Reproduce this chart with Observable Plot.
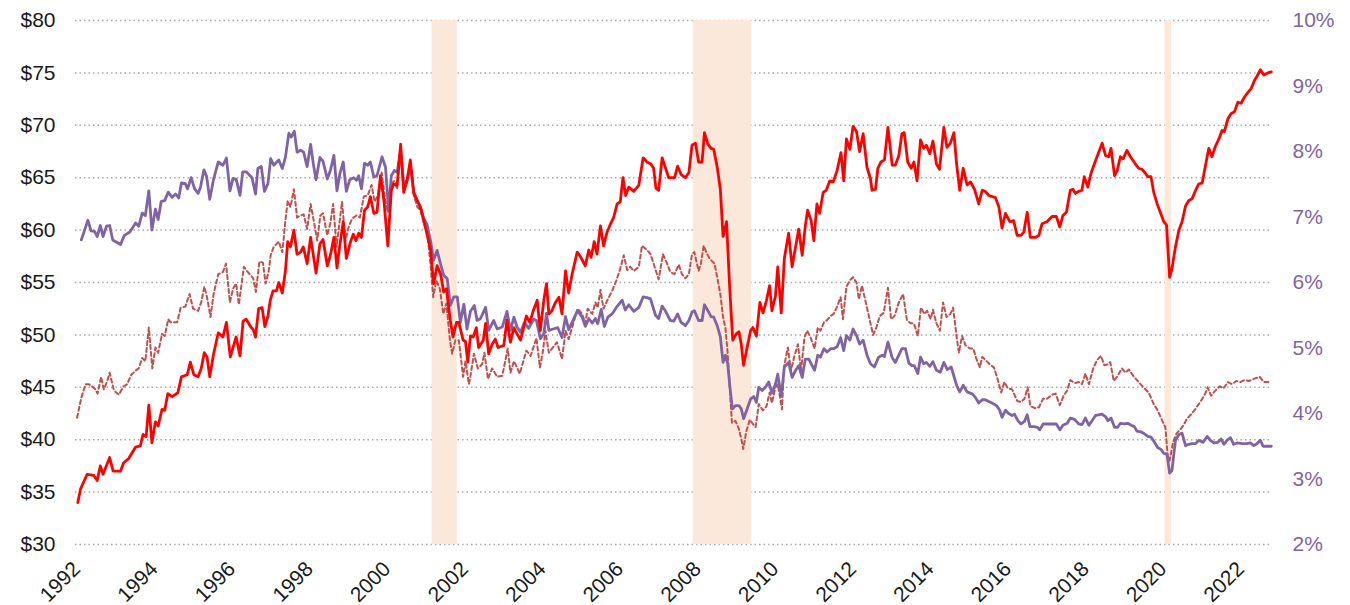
<!DOCTYPE html>
<html><head><meta charset="utf-8">
<script src="https://cdn.jsdelivr.net/npm/d3@7"></script>
<script src="https://cdn.jsdelivr.net/npm/@observablehq/plot@0.6"></script>
<style>body{margin:0;background:#fff;}</style>
</head><body><div id="chart"></div>
<script>
// [decimal year, value]
const redSeries = [
[1992.03,34.0],[1992.10,35.3],[1992.27,36.7],[1992.44,36.6],[1992.53,36.1],[1992.61,37.5],[1992.68,36.7],[1992.85,38.3],[1992.94,37.0],[1993.13,37.0],[1993.21,37.8],[1993.34,38.2],[1993.52,39.3],[1993.64,39.4],[1993.71,40.5],[1993.79,40.3],[1993.86,43.3],[1993.94,39.7],[1994.03,41.7],[1994.10,41.3],[1994.20,42.9],[1994.27,42.8],[1994.35,44.4],[1994.46,44.1],[1994.61,44.5],[1994.70,46.0],[1994.85,46.2],[1994.93,47.4],[1995.02,46.2],[1995.13,46.0],[1995.21,46.8],[1995.29,48.3],[1995.36,47.9],[1995.43,46.0],[1995.53,48.2],[1995.65,50.2],[1995.77,49.8],[1995.86,51.2],[1995.96,47.9],[1996.11,49.8],[1996.21,48.0],[1996.29,51.3],[1996.37,51.5],[1996.48,50.8],[1996.55,50.5],[1996.61,49.8],[1996.69,52.5],[1996.78,52.6],[1996.85,50.8],[1996.93,51.8],[1996.99,53.3],
[1997.06,54.2],[1997.15,54.2],[1997.21,55.0],[1997.30,54.0],[1997.38,56.1],[1997.44,58.9],[1997.51,58.4],[1997.60,60.0],[1997.68,57.7],[1997.77,57.9],[1997.84,58.4],[1997.94,56.8],[1998.03,59.3],[1998.17,55.9],[1998.27,58.7],[1998.35,59.1],[1998.46,56.6],[1998.54,57.6],[1998.63,59.3],[1998.71,56.4],[1998.78,58.5],[1998.87,60.8],[1998.95,57.3],[1999.06,58.9],[1999.13,59.6],[1999.20,59.0],[1999.27,59.7],[1999.34,59.3],[1999.42,61.9],[1999.50,62.2],[1999.57,63.2],[1999.66,61.6],[1999.74,61.7],[1999.83,65.2],[1999.92,62.8],[2000.02,58.5],[2000.11,63.8],[2000.17,64.4],[2000.26,64.3],[2000.35,68.2],[2000.43,63.6],[2000.52,64.8],[2000.60,66.7],[2000.69,63.5],[2000.78,62.8],[2000.86,62.2],[2000.95,60.9],[2001.03,59.6],[2001.12,58.2],[2001.20,54.9],[2001.29,56.6],[2001.38,55.8],[2001.46,54.1],[2001.53,54.4],[2001.63,51.4],[2001.70,49.8],[2001.79,51.2],[2001.85,51.2],[2001.96,49.5],[2002.02,49.4],[2002.08,47.4],[2002.15,49.9],
[2002.22,49.8],[2002.30,50.7],[2002.36,48.8],[2002.48,49.5],[2002.54,51.1],[2002.62,48.2],[2002.71,49.1],[2002.79,49.6],[2002.86,48.8],[2003.01,49.0],[2003.09,51.4],[2003.18,49.3],[2003.27,50.7],[2003.35,50.1],[2003.44,49.5],[2003.52,50.7],[2003.59,51.8],[2003.68,51.2],[2003.76,52.2],[2003.87,53.3],[2003.95,50.4],[2004.04,53.3],[2004.11,54.9],[2004.17,52.0],[2004.25,52.3],[2004.34,53.1],[2004.43,53.6],[2004.51,52.0],[2004.60,56.1],[2004.68,54.0],[2004.77,55.8],[2004.90,57.9],[2004.98,57.5],[2005.11,56.6],[2005.20,58.1],[2005.26,57.4],[2005.34,58.9],[2005.41,57.7],[2005.50,60.4],[2005.58,58.5],[2005.67,59.8],[2005.76,60.6],[2005.84,61.2],[2005.93,62.5],[2006.01,62.7],[2006.08,65.0],[2006.15,63.3],[2006.23,64.1],[2006.36,63.7],[2006.49,64.3],[2006.60,66.9],[2006.70,66.5],[2006.80,66.3],[2006.87,65.9],[2006.93,64.0],[2007.00,63.8],[2007.09,66.9],[2007.17,66.0],[2007.26,65.0],
[2007.41,65.0],[2007.49,66.1],[2007.58,65.3],[2007.69,65.0],[2007.78,65.5],[2007.86,68.1],[2007.95,68.3],[2008.03,66.5],[2008.12,66.5],[2008.18,69.3],[2008.27,68.2],[2008.35,67.8],[2008.42,67.7],[2008.51,66.0],[2008.59,63.9],[2008.66,59.4],[2008.75,60.8],[2008.83,54.6],[2008.91,49.5],[2009.00,50.1],[2009.07,50.3],[2009.13,49.1],[2009.19,47.1],[2009.28,48.8],[2009.37,50.4],[2009.43,50.7],[2009.52,49.9],[2009.61,53.1],[2009.69,52.1],[2009.78,53.3],[2009.86,54.7],[2009.92,52.3],[2010.01,53.7],[2010.07,56.5],[2010.16,52.1],[2010.24,57.3],[2010.35,59.7],[2010.44,56.5],[2010.53,58.4],[2010.61,60.1],[2010.70,57.6],[2010.78,60.4],[2010.84,61.9],[2010.93,60.9],[2011.00,59.0],[2011.08,62.5],[2011.15,61.6],[2011.24,63.6],[2011.32,63.8],[2011.41,64.7],[2011.50,64.6],[2011.60,65.7],[2011.70,67.4],[2011.77,64.7],[2011.84,68.7],[2011.93,67.7],[2012.01,69.9],[2012.10,69.4],[2012.18,67.5],[2012.27,69.2],[2012.37,66.0],
[2012.46,64.9],[2012.50,63.8],[2012.59,63.9],[2012.65,65.9],[2012.73,66.5],[2012.82,66.7],[2012.91,69.8],[2013.02,66.2],[2013.10,66.2],[2013.19,67.1],[2013.27,69.2],[2013.33,69.3],[2013.42,66.5],[2013.51,65.9],[2013.58,66.5],[2013.66,64.7],[2013.75,68.6],[2013.83,67.8],[2013.90,68.1],[2013.99,67.3],[2014.07,68.5],[2014.16,66.3],[2014.24,65.8],[2014.35,69.8],[2014.43,67.9],[2014.52,68.3],[2014.61,69.3],[2014.68,66.3],[2014.76,63.8],[2014.85,65.9],[2014.95,64.3],[2015.04,64.6],[2015.14,63.9],[2015.25,62.5],[2015.34,63.8],[2015.42,63.7],[2015.51,63.3],[2015.68,63.1],[2015.77,62.2],[2015.85,60.2],[2015.94,61.6],[2016.05,60.8],[2016.15,60.9],[2016.24,59.5],[2016.34,59.5],[2016.41,59.8],[2016.50,61.7],[2016.58,59.3],[2016.71,59.3],[2016.80,59.5],[2016.88,60.6],[2017.01,60.8],[2017.14,61.3],[2017.25,61.3],[2017.34,60.3],[2017.42,61.4],[2017.51,61.7],
[2017.61,63.8],[2017.68,63.9],[2017.74,63.5],[2017.83,63.7],[2017.91,63.8],[2017.97,65.1],[2018.06,64.1],[2018.15,65.5],[2018.23,66.3],[2018.34,67.4],[2018.43,68.3],[2018.52,67.1],[2018.60,67.0],[2018.66,67.8],[2018.75,65.2],[2018.82,65.7],[2018.90,67.0],[2018.97,66.8],[2019.07,67.6],[2019.16,67.0],[2019.29,66.3],[2019.37,65.9],[2019.46,65.8],[2019.55,65.4],[2019.61,65.1],[2019.69,65.1],[2019.76,63.6],[2019.85,62.5],[2019.93,61.7],[2020.02,60.8],[2020.09,60.5],[2020.17,55.5],[2020.23,56.3],[2020.32,58.4],[2020.41,60.0],[2020.49,60.8],[2020.58,62.3],[2020.66,62.8],[2020.75,63.0],[2020.84,63.8],[2020.92,64.4],[2021.01,64.5],[2021.09,66.1],[2021.18,67.8],[2021.26,67.0],[2021.35,68.0],[2021.44,68.7],[2021.52,69.5],[2021.58,69.4],[2021.67,70.6],[2021.75,71.1],[2021.84,71.3],[2021.93,72.2],[2022.01,72.1],[2022.10,72.7],[2022.18,73.1],[2022.27,73.5],[2022.36,74.3],[2022.44,74.8],[2022.51,75.3],[2022.60,74.8],[2022.70,75.0],[2022.79,75.1]
];

const purpleSeries = [
[1992.12,6.65],[1992.29,6.95],[1992.37,6.79],[1992.46,6.78],[1992.53,6.70],[1992.61,6.87],[1992.68,6.70],[1992.77,6.86],[1992.85,6.87],[1992.93,6.65],[1993.13,6.58],[1993.23,6.72],[1993.37,6.77],[1993.52,6.91],[1993.60,6.86],[1993.69,7.06],[1993.77,7.02],[1993.86,7.40],[1993.94,6.80],[1994.03,7.12],[1994.10,6.96],[1994.18,7.24],[1994.27,7.25],[1994.36,7.38],[1994.46,7.30],[1994.55,7.35],[1994.63,7.29],[1994.70,7.52],[1994.80,7.51],[1994.86,7.43],[1994.95,7.60],[1995.04,7.43],[1995.13,7.36],[1995.19,7.45],[1995.28,7.72],[1995.35,7.62],[1995.43,7.27],[1995.53,7.58],[1995.65,7.84],[1995.77,7.79],[1995.86,7.90],[1995.95,7.40],[1996.03,7.59],[1996.11,7.58],[1996.21,7.33],[1996.28,7.69],[1996.37,7.69],[1996.52,7.60],[1996.61,7.35],[1996.67,7.74],[1996.76,7.77],[1996.84,7.39],[1996.93,7.51],
[1997.00,7.89],[1997.08,7.79],[1997.21,7.87],[1997.30,7.74],[1997.38,7.91],[1997.47,8.28],[1997.53,8.22],[1997.61,8.31],[1997.68,7.99],[1997.77,8.02],[1997.85,7.99],[1997.94,7.77],[1998.03,8.11],[1998.10,7.81],[1998.17,7.57],[1998.27,7.91],[1998.35,7.85],[1998.46,7.58],[1998.54,7.71],[1998.63,7.94],[1998.71,7.40],[1998.78,7.65],[1998.87,7.84],[1998.95,7.39],[1999.04,7.57],[1999.14,7.60],[1999.21,7.56],[1999.27,7.63],[1999.34,7.43],[1999.42,7.82],[1999.50,7.79],[1999.57,7.84],[1999.66,7.61],[1999.74,7.63],[1999.87,7.92],[1999.96,7.76],[2000.04,7.10],[2000.11,7.63],[2000.19,7.71],[2000.26,7.68],[2000.35,8.02],[2000.43,7.47],[2000.52,7.58],[2000.60,7.76],[2000.69,7.38],[2000.78,7.25],[2000.86,7.15],[2000.95,6.97],[2001.03,6.89],[2001.12,6.64],[2001.20,6.34],[2001.29,6.49],[2001.38,6.28],[2001.46,6.11],[2001.55,6.06],[2001.63,5.65],[2001.72,5.78],[2001.81,5.78],[2001.89,5.39],[2001.98,5.67],[2002.06,5.29],[2002.15,5.56],
[2002.25,5.65],[2002.32,5.42],[2002.41,5.45],[2002.54,5.62],[2002.62,5.27],[2002.75,5.42],[2002.84,5.29],[2002.97,5.32],[2003.09,5.56],[2003.18,5.27],[2003.27,5.47],[2003.35,5.32],[2003.44,5.24],[2003.54,5.39],[2003.65,5.30],[2003.78,5.44],[2003.85,5.42],[2003.95,5.14],[2004.04,5.22],[2004.11,5.53],[2004.17,5.27],[2004.28,5.29],[2004.40,5.31],[2004.51,5.16],[2004.60,5.48],[2004.68,5.28],[2004.77,5.39],[2004.91,5.57],[2005.03,5.47],[2005.11,5.33],[2005.20,5.45],[2005.29,5.38],[2005.37,5.45],[2005.43,5.37],[2005.52,5.59],[2005.60,5.33],[2005.69,5.47],[2005.80,5.52],[2005.91,5.62],[2006.06,5.73],[2006.14,5.58],[2006.23,5.66],[2006.36,5.56],[2006.49,5.62],[2006.60,5.78],[2006.70,5.77],[2006.79,5.75],[2006.92,5.50],[2007.00,5.45],[2007.09,5.64],[2007.17,5.57],
[2007.30,5.42],[2007.39,5.41],[2007.49,5.52],[2007.58,5.39],[2007.69,5.34],[2007.78,5.42],[2007.86,5.55],[2007.92,5.57],[2008.03,5.42],[2008.12,5.42],[2008.18,5.66],[2008.27,5.57],[2008.35,5.48],[2008.42,5.47],[2008.51,5.34],[2008.59,5.17],[2008.66,4.78],[2008.72,4.89],[2008.78,4.76],[2008.83,4.45],[2008.90,4.07],[2008.98,4.12],[2009.07,4.12],[2009.13,4.07],[2009.19,3.92],[2009.28,4.07],[2009.37,4.22],[2009.45,4.26],[2009.52,4.17],[2009.58,4.40],[2009.67,4.35],[2009.75,4.40],[2009.84,4.48],[2009.92,4.31],[2010.01,4.45],[2010.07,4.60],[2010.16,4.26],[2010.24,4.71],[2010.35,4.78],[2010.44,4.55],[2010.53,4.66],[2010.61,4.73],[2010.70,4.55],[2010.78,4.83],[2010.87,4.83],[2010.93,4.76],[2011.02,4.66],[2011.10,4.89],[2011.17,4.86],[2011.26,4.99],[2011.34,4.94],[2011.43,4.99],[2011.51,4.99],[2011.60,5.02],[2011.69,5.16],[2011.77,4.96],[2011.84,5.19],[2011.93,5.12],[2012.01,5.29],[2012.10,5.19],[2012.18,5.06],[2012.27,5.12],[2012.37,4.89],
[2012.46,4.76],[2012.56,4.71],[2012.67,4.86],[2012.76,4.89],[2012.82,4.87],[2012.91,5.09],[2013.02,4.85],[2013.10,4.78],[2013.27,4.99],[2013.36,4.99],[2013.45,4.77],[2013.53,4.73],[2013.59,4.73],[2013.68,4.61],[2013.75,4.86],[2013.83,4.76],[2013.90,4.78],[2013.99,4.72],[2014.07,4.79],[2014.16,4.66],[2014.26,4.63],[2014.35,4.78],[2014.44,4.67],[2014.54,4.71],[2014.68,4.43],[2014.76,4.33],[2014.85,4.43],[2014.95,4.33],[2015.08,4.30],[2015.16,4.25],[2015.25,4.16],[2015.34,4.21],[2015.42,4.21],[2015.59,4.16],[2015.71,4.12],[2015.79,4.05],[2015.85,3.94],[2015.94,4.05],[2016.02,4.00],[2016.11,3.97],[2016.17,3.99],[2016.26,3.89],[2016.34,3.84],[2016.43,3.88],[2016.50,3.98],[2016.57,3.80],[2016.67,3.80],[2016.76,3.79],[2016.82,3.75],[2016.91,3.84],[2017.06,3.84],[2017.25,3.84],[2017.34,3.75],[2017.42,3.82],[2017.53,3.85],
[2017.61,3.93],[2017.72,3.91],[2017.83,3.84],[2017.91,3.83],[2018.00,3.93],[2018.09,3.82],[2018.17,3.89],[2018.26,3.97],[2018.34,3.98],[2018.43,3.99],[2018.52,3.95],[2018.58,3.89],[2018.66,3.93],[2018.75,3.79],[2018.83,3.79],[2018.90,3.85],[2019.00,3.84],[2019.09,3.85],[2019.18,3.82],[2019.26,3.80],[2019.33,3.73],[2019.43,3.72],[2019.52,3.69],[2019.61,3.65],[2019.69,3.64],[2019.78,3.56],[2019.86,3.48],[2019.95,3.45],[2020.02,3.39],[2020.10,3.38],[2020.17,3.09],[2020.23,3.13],[2020.32,3.59],[2020.41,3.68],[2020.49,3.70],[2020.58,3.51],[2020.66,3.53],[2020.75,3.54],[2020.84,3.54],[2020.92,3.59],[2021.03,3.56],[2021.14,3.65],[2021.22,3.59],[2021.32,3.55],[2021.41,3.56],[2021.50,3.61],[2021.57,3.53],[2021.65,3.59],[2021.74,3.63],[2021.82,3.53],[2021.91,3.55],[2022.04,3.54],[2022.17,3.54],[2022.25,3.55],[2022.34,3.51],[2022.42,3.54],[2022.51,3.59],[2022.58,3.50],[2022.70,3.50],[2022.79,3.50]
];

const dashedSeries = [
[1992.01,42.1],[1992.12,44.0],[1992.23,45.3],[1992.31,45.3],[1992.46,44.9],[1992.54,44.4],[1992.63,46.0],[1992.70,44.8],[1992.79,45.6],[1992.85,46.4],[1992.96,44.7],[1993.09,44.3],[1993.21,45.1],[1993.30,45.3],[1993.41,46.2],[1993.52,46.6],[1993.60,46.8],[1993.69,47.8],[1993.77,47.5],[1993.86,50.7],[1993.95,46.8],[1994.03,48.8],[1994.10,48.3],[1994.20,50.1],[1994.27,49.9],[1994.36,51.5],[1994.42,51.2],[1994.59,51.2],[1994.68,52.6],[1994.80,52.7],[1994.91,53.9],[1995.00,52.5],[1995.13,52.3],[1995.21,53.1],[1995.29,54.6],[1995.36,53.6],[1995.45,51.7],[1995.53,53.9],[1995.65,55.8],[1995.77,56.0],[1995.85,56.8],[1995.95,53.1],[1996.03,54.4],[1996.11,54.9],[1996.18,52.9],[1996.31,56.5],[1996.39,56.1],[1996.55,55.4],[1996.62,54.1],[1996.71,57.0],[1996.80,56.9],[1996.87,54.9],[1996.95,56.1],
[1997.00,57.6],[1997.08,58.4],[1997.21,58.9],[1997.30,57.9],[1997.38,60.9],[1997.44,62.8],[1997.51,62.2],[1997.60,63.9],[1997.68,61.2],[1997.77,61.4],[1997.85,61.5],[1997.94,60.1],[1998.03,62.5],[1998.11,60.9],[1998.20,59.0],[1998.28,61.4],[1998.35,61.6],[1998.46,59.5],[1998.54,60.7],[1998.61,62.5],[1998.70,58.4],[1998.78,60.9],[1998.84,62.7],[1998.93,59.0],[1999.01,60.3],[1999.10,61.1],[1999.21,61.4],[1999.30,61.2],[1999.40,63.2],[1999.50,63.3],[1999.60,64.3],[1999.68,62.7],[1999.76,63.3],[1999.86,65.5],[1999.94,63.2],[2000.02,61.7],[2000.11,64.4],[2000.19,64.7],[2000.26,63.9],[2000.35,67.8],[2000.43,63.9],[2000.52,64.6],[2000.60,66.5],[2000.69,63.3],[2000.78,62.2],[2000.86,61.9],[2000.95,60.6],[2001.03,59.8],[2001.12,56.8],[2001.19,53.6],[2001.27,55.2],[2001.36,54.4],[2001.45,52.0],[2001.53,53.0],[2001.62,49.5],[2001.68,48.2],[2001.76,49.5],[2001.85,49.5],[2001.96,46.0],[2002.02,47.5],[2002.11,45.3],
[2002.15,46.1],[2002.24,48.2],[2002.34,46.8],[2002.45,47.2],[2002.51,48.3],[2002.60,45.8],[2002.71,46.8],[2002.84,46.0],[2002.97,46.1],[2003.11,48.7],[2003.18,46.4],[2003.27,47.5],[2003.42,46.3],[2003.59,48.5],[2003.70,48.0],[2003.85,49.7],[2003.94,46.9],[2004.02,48.5],[2004.08,50.4],[2004.17,48.3],[2004.38,49.3],[2004.51,47.7],[2004.60,50.4],[2004.68,49.6],[2004.77,50.7],[2004.91,52.5],[2005.03,52.0],[2005.11,51.1],[2005.17,52.5],[2005.29,52.0],[2005.37,53.1],[2005.43,52.6],[2005.50,54.3],[2005.58,52.5],[2005.69,53.4],[2005.80,54.2],[2005.91,55.2],[2006.01,56.3],[2006.10,57.6],[2006.19,56.2],[2006.27,56.5],[2006.36,56.1],[2006.49,56.5],[2006.57,58.5],[2006.70,58.1],[2006.79,57.7],[2006.87,56.8],[2007.00,55.3],[2007.11,57.7],[2007.22,56.8],
[2007.30,56.0],[2007.41,55.8],[2007.52,56.7],[2007.60,55.8],[2007.69,55.4],[2007.78,55.8],[2007.86,57.7],[2007.92,57.9],[2008.03,56.1],[2008.09,56.8],[2008.16,58.5],[2008.25,57.7],[2008.33,57.2],[2008.44,56.8],[2008.51,55.5],[2008.59,53.9],[2008.66,51.7],[2008.72,50.7],[2008.78,48.2],[2008.83,45.0],[2008.89,41.6],[2008.98,41.8],[2009.07,41.0],[2009.13,40.1],[2009.18,39.1],[2009.26,40.8],[2009.35,41.9],[2009.45,41.4],[2009.50,41.2],[2009.58,43.4],[2009.69,42.8],[2009.78,43.2],[2009.86,44.5],[2009.92,43.5],[2010.01,45.0],[2010.07,45.3],[2010.18,42.9],[2010.23,46.9],[2010.33,48.8],[2010.41,46.6],[2010.50,48.0],[2010.59,49.1],[2010.67,46.6],[2010.76,49.8],[2010.83,50.4],[2010.91,49.8],[2011.02,48.7],[2011.10,50.7],[2011.17,50.4],[2011.26,51.2],[2011.34,51.4],[2011.43,51.8],[2011.51,52.0],[2011.60,52.7],[2011.69,53.6],[2011.75,51.5],[2011.84,54.6],[2011.93,55.2],[2012.01,55.5],[2012.10,55.0],[2012.16,53.4],[2012.24,54.7],[2012.37,52.6],[2012.46,51.1],
[2012.53,50.0],[2012.61,50.7],[2012.70,51.8],[2012.80,52.1],[2012.91,54.5],[2012.99,51.5],[2013.08,51.8],[2013.19,53.1],[2013.30,53.9],[2013.40,51.4],[2013.49,51.1],[2013.58,51.1],[2013.68,49.9],[2013.76,52.6],[2013.85,52.0],[2013.92,52.3],[2014.01,51.5],[2014.07,52.4],[2014.16,51.1],[2014.25,50.4],[2014.33,53.1],[2014.42,51.7],[2014.52,52.0],[2014.59,52.6],[2014.68,49.8],[2014.74,48.3],[2014.82,49.9],[2014.91,49.0],[2015.02,48.7],[2015.11,48.7],[2015.19,47.7],[2015.28,46.9],[2015.34,47.9],[2015.45,47.5],[2015.53,47.2],[2015.64,46.9],[2015.72,46.0],[2015.83,44.5],[2015.91,45.5],[2016.00,44.9],[2016.11,44.8],[2016.24,43.7],[2016.34,43.6],[2016.43,43.9],[2016.51,45.0],[2016.58,43.2],[2016.71,43.0],[2016.80,43.1],[2016.91,43.9],[2017.01,43.9],[2017.14,44.3],[2017.23,44.4],[2017.34,43.3],[2017.44,44.2],[2017.53,44.7],
[2017.61,45.7],[2017.72,45.4],[2017.83,45.5],[2017.91,45.3],[2018.00,46.3],[2018.09,45.3],[2018.20,46.8],[2018.30,47.6],[2018.40,48.0],[2018.49,47.1],[2018.58,47.2],[2018.64,47.4],[2018.73,45.6],[2018.83,46.1],[2018.94,46.8],[2019.03,46.4],[2019.12,46.7],[2019.25,46.0],[2019.37,45.5],[2019.52,44.9],[2019.63,44.5],[2019.76,43.4],[2019.86,42.8],[2019.98,41.8],[2020.06,41.2],[2020.12,38.5],[2020.17,38.0],[2020.26,39.8],[2020.35,40.6],[2020.45,41.0],[2020.53,41.4],[2020.62,42.0],[2020.72,42.4],[2020.81,42.8],[2020.92,43.4],[2021.01,43.9],[2021.09,44.4],[2021.15,45.0],[2021.24,44.2],[2021.35,44.7],[2021.46,45.1],[2021.56,44.9],[2021.67,45.5],[2021.78,45.3],[2021.89,45.6],[2021.99,45.5],[2022.10,45.7],[2022.21,45.6],[2022.34,45.8],[2022.49,46.0],[2022.60,45.5],[2022.70,45.5],[2022.77,45.5]
];

const recessions = [[2001.16, 2001.81], [2007.89, 2009.39], [2020.05, 2020.22]];
const dollarTicks = [30, 35, 40, 45, 50, 55, 60, 65, 70, 75, 80];
const percentTicks = [2, 3, 4, 5, 6, 7, 8, 9, 10];
const yearTicks = [1992, 1994, 1996, 1998, 2000, 2002, 2004, 2006, 2008, 2010, 2012, 2014, 2016, 2018, 2020, 2022];

// map percent (right axis, 2%..10%) onto dollar scale (left axis, $30..$80)
const pctToDollar = p => 30 + (p - 2) * 50 / 8;
const dollarToPct = v => (v - 30) * 8 / 50 + 2;

const chart = Plot.plot({
  width: 1350,
  height: 605,
  marginLeft: 75,
  marginRight: 80,
  marginTop: 20,
  marginBottom: 61,
  style: {fontFamily: "Arial, 'Liberation Sans', sans-serif", fontSize: "20px", background: "#ffffff", overflow: "visible"},
  x: {domain: [1991.97, 2022.77]},
  y: {domain: [30, 80]},
  marks: [
    Plot.ruleY(dollarTicks, {stroke: "#a8a8a8", strokeWidth: 1.5, strokeDasharray: "1.5,3"}),
    Plot.rect(recessions, {x1: d => d[0], x2: d => d[1], fill: "#fce8da"}),
    Plot.lineY(dashedSeries, {x: d => d[0], y: d => d[1], stroke: "#c0504d", strokeWidth: 2, strokeDasharray: "4,3"}),
    Plot.lineY(purpleSeries, {x: d => d[0], y: d => pctToDollar(d[1]), stroke: "#7f63a3", strokeWidth: 2.8}),
    Plot.lineY(redSeries, {x: d => d[0], y: d => d[1], stroke: "#ff0000", strokeWidth: 2.8}),
    Plot.axisY(dollarTicks, {anchor: "left", tickSize: 0, tickPadding: 20, tickFormat: d => "$" + d, fill: "#1a1a1a", fontSize: 21, label: null}),
    Plot.axisY(percentTicks.map(pctToDollar), {anchor: "right", tickSize: 0, tickPadding: 22, tickFormat: v => Math.round(dollarToPct(v)) + "%", fill: "#8064a2", fontSize: 21, label: null}),
    Plot.axisX(yearTicks, {anchor: "bottom", tickSize: 0, tickPadding: 15, dy: 6, tickRotate: -45, tickFormat: d => String(d), fill: "#1a1a1a", fontSize: 21, label: null})
  ]
});
document.getElementById("chart").appendChild(chart);
</script>
</body></html>
